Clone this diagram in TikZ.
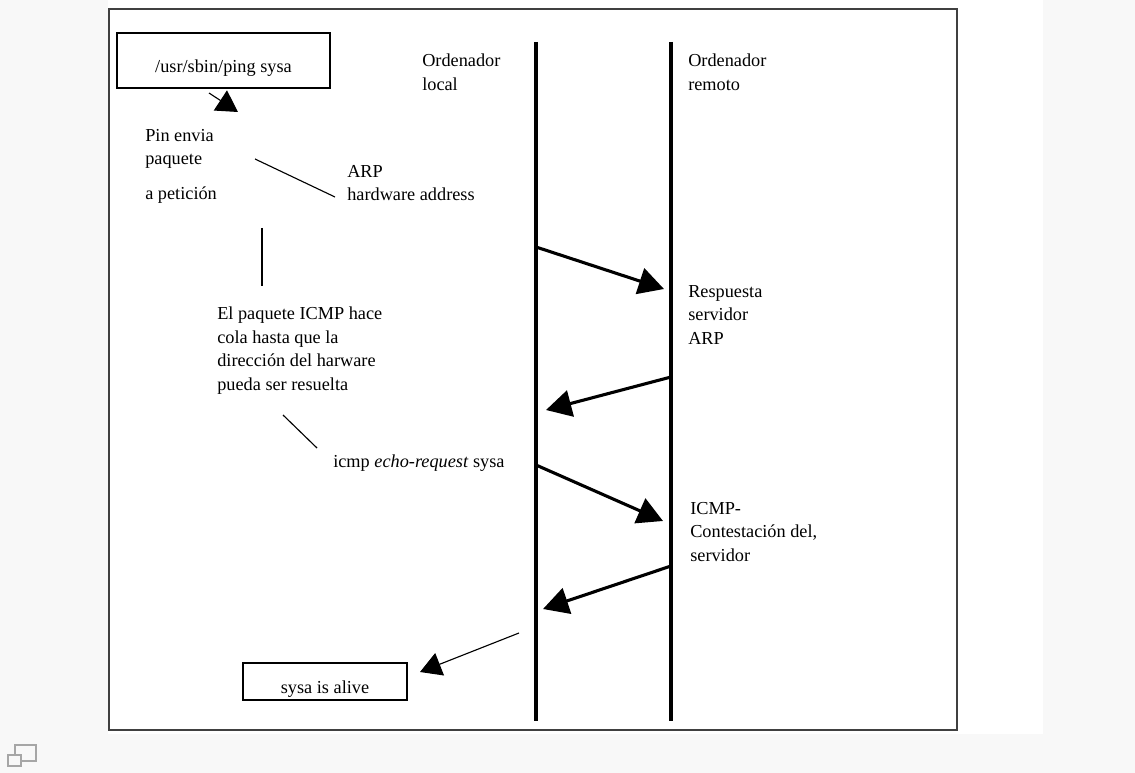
\documentclass[tikz,border=0pt]{standalone}
\usepackage{xcolor}
\usepackage{fontspec}
\setmainfont{Liberation Serif}
\usepackage{tikz}
\usetikzlibrary{arrows.meta, positioning}

\definecolor{pagebg}{HTML}{F8F8F8}

\begin{document}
\begin{tikzpicture}[
        x=0.025cm, y=-0.025cm,
        font=\fontsize{13}{16.7}\selectfont,
        label/.style={anchor=north west, inner sep=0pt, align=left},
        cmdbox/.style={draw, line width=1.3pt, inner sep=0pt, text height=18pt, text depth=1.6pt},
        lifeline/.style={line width=2.2pt},
        msg/.style={line width=2.2pt, -{Triangle[length=18pt, width=19pt]}},
        note/.style={line width=0.8pt},
        pointer/.style={line width=0.8pt, -{Triangle[length=15pt, width=17pt]}}
    ]
        % Page
        \useasboundingbox (0,0) rectangle (1135,773);
        \fill[pagebg] (0,0) rectangle (1135,773);
        \fill[white] (108,0) rectangle (1043,734);
        \draw[line width=1.4pt, black!75] (109,9) rectangle (957,730);
        \draw[gray!70, line width=0.8pt] (15,745) rectangle (36,761);
        \draw[gray!70, line width=0.8pt, fill=pagebg] (8,755) rectangle (21,766);

        % Boxes
        \node (ping) [cmdbox, minimum width=5.325cm, minimum height=1.375cm] at (223.5,60.5) {/usr/sbin/ping sysa};
        \node (alive) [cmdbox, minimum width=4.1cm, minimum height=0.925cm] at (325,681.5) {sysa is alive};

        % Labels
        \node (ordloc) [label] at (422,54) {Ordenador\\local};
        \node (ordrem) [label] at (688,54) {Ordenador\\remoto};
        \node (pin) [label] at (145,129) {Pin envia\\paquete\\[8pt]a petición};
        \node (arp) [label] at (347,165) {ARP\\hardware address};
        \node (queue) [label] at (217,307) {El paquete ICMP hace\\cola hasta que la\\dirección del harware\\pueda ser resuelta};
        \node (echo) [label] at (333,455) {icmp \textit{echo-request} sysa};
        \node (resp) [label] at (688,285) {Respuesta\\servidor\\ARP};
        \node (reply) [label] at (690,502) {ICMP-\\Contestación del,\\servidor};

        % Lifelines
        \coordinate (loctop) at (536,42);
        \coordinate (locbot) at (536,721);
        \coordinate (remtop) at (671,42);
        \coordinate (rembot) at (671,721);
        \draw [lifeline] (loctop) -- (locbot);
        \draw [lifeline] (remtop) -- (rembot);

        % Messages
        \coordinate (m1s) at (536,247);
        \coordinate (m1e) at (664,289);
        \coordinate (m2s) at (671,377);
        \coordinate (m2e) at (546,410);
        \coordinate (m3s) at (536,465);
        \coordinate (m3e) at (663,521);
        \coordinate (m4s) at (671,566);
        \coordinate (m4e) at (543,609);
        \draw [msg] (m1s) -- (m1e);
        \draw [msg] (m2s) -- (m2e);
        \draw [msg] (m3s) -- (m3e);
        \draw [msg] (m4s) -- (m4e);

        % Notes
        \coordinate (p1) at (209,93);
        \coordinate (p2) at (238,112);
        \coordinate (n1) at (255,159);
        \coordinate (n2) at (335,197);
        \coordinate (n3) at (262,228);
        \coordinate (n4) at (262,286);
        \coordinate (n5) at (283,415);
        \coordinate (n6) at (317,448);
        \coordinate (a1) at (519,633);
        \coordinate (a2) at (420,672);
        \draw [pointer] (p1) -- (p2);
        \draw [note] (n1) -- (n2);
        \draw [note] (n3) -- (n4);
        \draw [note] (n5) -- (n6);
        \draw [pointer] (a1) -- (a2);
    \end{tikzpicture}
\end{document}
